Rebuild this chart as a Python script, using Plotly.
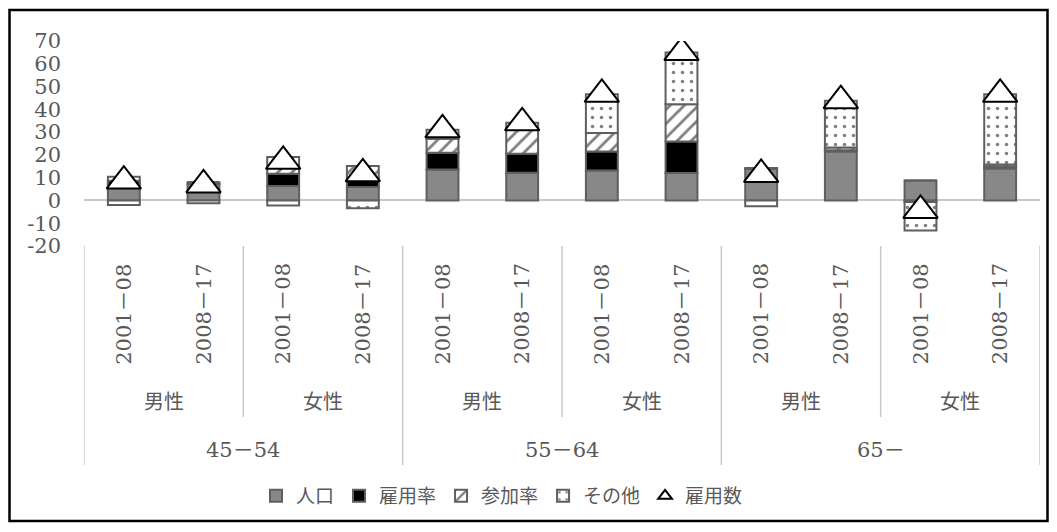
import plotly.graph_objects as go

# ---- data ----
age_groups = ["45－54", "55－64", "65－"]
sexes = ["男性", "女性"]
periods = ["2001－08", "2008－17"]

jinko      = [7.2, 7.2, 6.3, 5.9, 13.6, 12.2, 13.2, 12.0, 13.8, 21.5, 8.8, 14.0]
koyoritsu  = [1.5, 0.8, 5.4, 3.8, 7.3, 8.3, 8.3, 13.9, 0.4, 0.5, 0.0, 0.8]
sankaritsu = [1.7, 0.0, 7.4, 5.4, 6.2, 11.3, 8.1, 16.3, 0.0, 1.2, -0.7, 1.0]
sonota     = [-2.0, -1.2, -2.2, -3.4, 3.9, 2.3, 17.0, 22.7, -2.6, 20.6, -12.5, 30.8]
koyosu     = [8.5, 6.8, 17.2, 11.7, 31.0, 34.1, 46.6, 64.9, 11.4, 43.8, -4.4, 46.6]

y_tickvals = [-20, -10, 0, 10, 20, 30, 40, 50, 60, 70]
y_ticktext = ["-20", "-10", "0", "10", "20", "30", "40", "50", "60", "70"]

series_names = ["人口", "雇用率", "参加率", "その他", "雇用数"]

# ---- categories ----
cats = []
cat_age, cat_sex, cat_per = [], [], []
for a in age_groups:
    for s in sexes:
        for p in periods:
            cats.append(f"{a}|{s}|{p}")
            cat_age.append(a); cat_sex.append(s); cat_per.append(p)

W, H = 1057, 532
L, R, T, B = 84, 17, 41, 286
pw, ph = W - L - R, H - T - B

def px2py(y):  # pixel y -> paper y
    return (H - B - y) / ph

def px2px(x):
    return (x - L) / pw

GRAY_TXT = "#595959"
SERIF = "DejaVu Serif, Noto Sans CJK JP"
SANS = "Noto Sans CJK JP"
edge = dict(color="#5f5f5f", width=2)

fig = go.Figure()
fig.add_trace(go.Bar(x=cats, y=jinko, name=series_names[0],
                     marker=dict(color="#888888", line=edge)))
fig.add_trace(go.Bar(x=cats, y=koyoritsu, name=series_names[1],
                     marker=dict(color="#000000", line=edge)))
fig.add_trace(go.Bar(x=cats, y=sankaritsu, name=series_names[2],
                     marker=dict(color="#ffffff", line=edge,
                                 pattern=dict(shape="/", fgcolor="#000000", bgcolor="#ffffff",
                                              size=10, solidity=0.28))))
fig.add_trace(go.Bar(x=cats, y=sonota, name=series_names[3],
                     marker=dict(color="#ffffff", line=edge,
                                 pattern=dict(shape=".", fgcolor="#000000", bgcolor="#ffffff",
                                              size=9, solidity=0.12))))
fig.add_trace(go.Scatter(x=cats, y=koyosu, name=series_names[4], mode="markers",
                         marker=dict(symbol="triangle-up", size=30, color="#ffffff",
                                     line=dict(color="#000000", width=2))))

shapes = []
n = len(cats)
for i in range(0, n + 1, 2):
    xb = i - 0.5
    full = (i % 4 == 0)
    shapes.append(dict(type="line", xref="x", yref="paper", x0=xb, x1=xb,
                       y0=0, y1=px2py(465 if full else 417),
                       line=dict(color="#c8c8c8", width=1.5)))
shapes.append(dict(type="rect", xref="paper", yref="paper",
                   x0=px2px(9.5), x1=px2px(1047.5), y0=px2py(521), y1=px2py(10),
                   line=dict(color="#000000", width=2.5), fillcolor="rgba(0,0,0,0)", layer="below"))

annotations = []
for i in range(n):
    annotations.append(dict(x=i, xref="x", y=px2py(314), yref="paper", text=cat_per[i],
                            textangle=-90, showarrow=False, xanchor="center", yanchor="middle",
                            font=dict(family=SERIF, size=21, color=GRAY_TXT)))
for j in range(n // 2):
    annotations.append(dict(x=2 * j + 0.5, xref="x", y=px2py(400), yref="paper",
                            text=cat_sex[2 * j], showarrow=False, xanchor="center", yanchor="middle",
                            font=dict(family=SANS, size=20, color=GRAY_TXT)))
for k in range(n // 4):
    annotations.append(dict(x=4 * k + 1.5, xref="x", y=px2py(450), yref="paper",
                            text=cat_age[4 * k], showarrow=False, xanchor="center", yanchor="middle",
                            font=dict(family=SERIF, size=21, color=GRAY_TXT)))

fig.update_layout(
    width=W, height=H,
    margin=dict(l=L, r=R, t=T, b=B, autoexpand=False),
    barmode="relative", bargap=0.6,
    plot_bgcolor="#ffffff", paper_bgcolor="#ffffff",
    showlegend=True,
    legend=dict(orientation="h", x=px2px(502), xanchor="center", y=px2py(496), yanchor="middle",
                font=dict(family=SANS, size=19, color=GRAY_TXT),
                itemwidth=30, itemsizing="constant", traceorder="normal"),
    xaxis=dict(type="category", showticklabels=False, showgrid=False, zeroline=False,
               showline=False, ticks="", range=[-0.5, n - 0.5]),
    yaxis=dict(range=[-20, 70], tickvals=y_tickvals, ticktext=y_ticktext,
               showgrid=False, zeroline=True, zerolinecolor="#c8c8c8", zerolinewidth=2,
               showline=False, ticks="", ticklabelstandoff=22,
               tickfont=dict(family=SERIF, size=21, color=GRAY_TXT)),
    shapes=shapes, annotations=annotations,
)

fig.write_html("out.html", config={"displayModeBar": False},
               post_script="document.body.style.margin='0';document.body.style.overflow='hidden';")
